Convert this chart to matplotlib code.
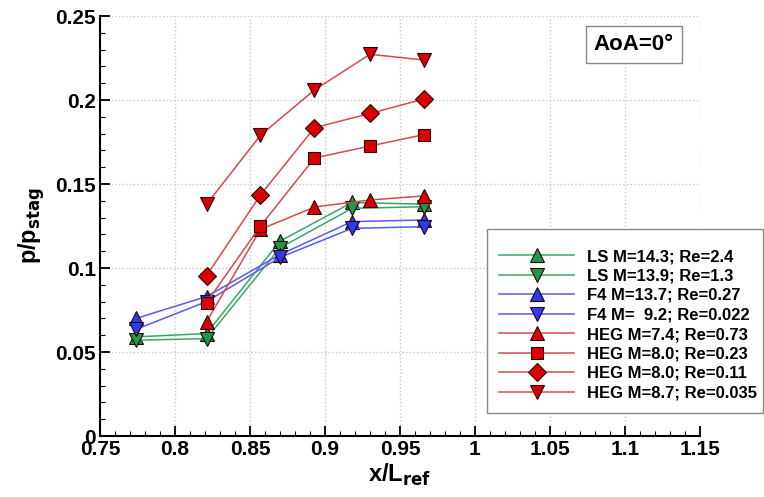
import matplotlib
matplotlib.use('Agg')
import matplotlib.pyplot as plt
from matplotlib.patches import Rectangle
from matplotlib.ticker import MultipleLocator

plt.rcParams['font.family'] = ['Liberation Sans', 'DejaVu Sans']
plt.rcParams['font.weight'] = 'bold'

# measurement positions
x_heg = [0.821, 0.857, 0.893, 0.930, 0.966]
x_other = [0.774, 0.821, 0.870, 0.918, 0.966]

# p/p_stag for each run
ls_143 = [0.059, 0.061, 0.116, 0.139, 0.138]
ls_139 = [0.057, 0.058, 0.112, 0.1355, 0.1365]
f4_137 = [0.070, 0.083, 0.108, 0.1276, 0.1286]
f4_92 = [0.0635, 0.080, 0.1063, 0.1236, 0.1246]
heg_74 = [0.068, 0.123, 0.1363, 0.1405, 0.1429]
heg_80a = [0.0794, 0.125, 0.1655, 0.1726, 0.1794]
heg_80b = [0.0954, 0.1435, 0.1835, 0.192, 0.2006]
heg_87 = [0.1379, 0.179, 0.206, 0.2272, 0.2238]

labels = ['LS M=14.3; Re=2.4', 'LS M=13.9; Re=1.3', 'F4 M=13.7; Re=0.27',
          'F4 M=  9.2; Re=0.022', 'HEG M=7.4; Re=0.73', 'HEG M=8.0; Re=0.23',
          'HEG M=8.0; Re=0.11', 'HEG M=8.7; Re=0.035']

green_line, green_fill = '#3aa66a', '#1e9a4c'
blue_line, blue_fill = '#5a5aee', '#2a3cf0'
red_line, red_fill = '#d84a4a', '#d80000'

series = [
    (x_other, ls_143, green_line, green_fill, '^'),
    (x_other, ls_139, green_line, green_fill, 'v'),
    (x_other, f4_137, blue_line, blue_fill, '^'),
    (x_other, f4_92, blue_line, blue_fill, 'v'),
    (x_heg, heg_74, red_line, red_fill, '^'),
    (x_heg, heg_80a, red_line, red_fill, 's'),
    (x_heg, heg_80b, red_line, red_fill, 'D'),
    (x_heg, heg_87, red_line, red_fill, 'v'),
]

fig = plt.figure(figsize=(7.64, 4.97), dpi=100)
ax = fig.add_axes([0.1309, 0.1227, 0.7853, 0.8451])

handles = []
for (xs, ys, lc, fc, mk), lab in zip(series, labels):
    ms = 9 if mk in ('s', 'D') else 10.5
    h, = ax.plot(xs, ys, color=lc, linewidth=1.1, marker=mk, markersize=ms,
                 markerfacecolor=fc, markeredgecolor='#300000', markeredgewidth=0.8,
                 label=lab)
    handles.append(h)

ax.set_xlim(0.75, 1.15)
ax.set_ylim(0, 0.25)
ax.xaxis.set_minor_locator(MultipleLocator(0.01))
ax.yaxis.set_minor_locator(MultipleLocator(0.01))
ax.set_xticks([0.75, 0.8, 0.85, 0.9, 0.95, 1.0, 1.05, 1.1, 1.15])
ax.set_xticklabels(['0.75', '0.8', '0.85', '0.9', '0.95', '1', '1.05', '1.1', '1.15'])
ax.set_yticks([0, 0.05, 0.1, 0.15, 0.2, 0.25])
ax.set_yticklabels(['0', '0.05', '0.1', '0.15', '0.2', '0.25'])

ax.tick_params(which='major', direction='in', length=7, width=1.3, labelsize=15, pad=3)
ax.tick_params(which='minor', direction='in', length=3.5, width=0.8)
ax.spines['top'].set_visible(False)
ax.spines['right'].set_visible(False)
ax.spines['left'].set_linewidth(1.5)
ax.spines['bottom'].set_linewidth(1.5)
ax.grid(True, which='major', color='#c8c8c8', linestyle=':', linewidth=1)
ax.set_axisbelow(True)

ax.set_xlabel(r'x/L$_{\mathbf{ref}}$', fontsize=17, fontweight='bold', labelpad=2)
ax.set_ylabel(r'p/p$_{\mathbf{stag}}$', fontsize=17, fontweight='bold', labelpad=6)

ax.text(0.89, 0.932, 'AoA=0°', transform=ax.transAxes, fontsize=16, fontweight='bold',
        ha='center', va='center',
        bbox=dict(boxstyle='square,pad=0.35', facecolor='white', edgecolor='#888888', linewidth=1))

# legend frame drawn separately so the padding matches the original box
fig.patches.append(Rectangle((487 / 764, 1 - 413 / 497), 276 / 764, 184 / 497,
                             transform=fig.transFigure, facecolor='white',
                             edgecolor='#888888', linewidth=1, zorder=3))
leg = fig.legend(handles=handles, loc='upper left', bbox_to_anchor=(499 / 764, 1 - 249 / 497),
                 fontsize=12, handlelength=4.5, frameon=False, borderpad=0,
                 borderaxespad=0, labelspacing=0.27, handletextpad=0.8)
leg.set_zorder(4)
for t in leg.get_texts():
    t.set_fontweight('bold')

fig.savefig('out.png', dpi=100)
